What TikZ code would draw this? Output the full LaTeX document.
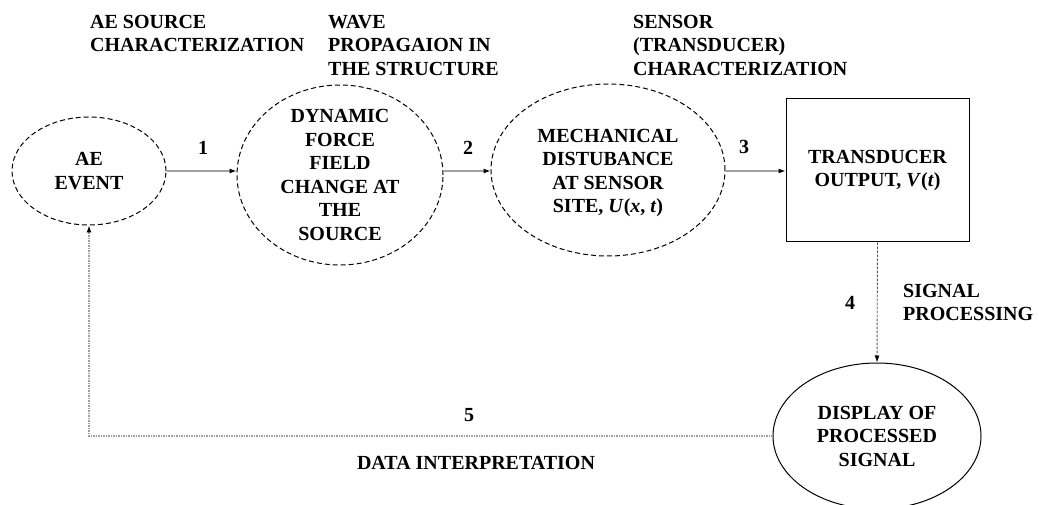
\documentclass[tikz,border=0pt]{standalone}
\usepackage{fontspec}
\setmainfont{Liberation Serif}
\usetikzlibrary{positioning,shapes.geometric,arrows.meta}

\tikzset{
  evt/.style={ellipse, draw, line width=1pt, dash pattern=on 5pt off 3pt, inner sep=0pt},
  txt/.style={align=center, inner sep=0pt},
  head/.style={align=left, anchor=north west, inner sep=0pt},
  num/.style={inner sep=0pt},
  flow/.style={draw=gray!75, line width=1.1pt, -{Latex[black,length=7pt,width=5pt]}},
}

\begin{document}
\begin{tikzpicture}[x=1pt, y=-1pt, font=\fontsize{20}{23.5}\selectfont\bfseries]
\useasboundingbox (0,0) rectangle (1039,505);

% headings over the steps
\node[head] (srchead) at (90,15) {AE SOURCE\\CHARACTERIZATION};
\node[head] (wavehead) at (328,15) {WAVE\\PROPAGAION IN\\THE STRUCTURE};
\node[head] (senshead) at (633,15) {SENSOR\\(TRANSDUCER)\\CHARACTERIZATION};

% the chain
\node[evt, minimum width=154, minimum height=108,
  label={[txt, name=eventtxt]center:AE\\EVENT}] (event) at (89,171) {};
\node[evt, minimum width=206, minimum height=180,
  label={[txt, name=forcetxt]center:DYNAMIC\\FORCE\\FIELD\\CHANGE AT\\THE\\SOURCE}] (force) at (340,175) {};
\node[evt, minimum width=234, minimum height=172,
  label={[txt, name=mechtxt, yshift=-3pt]center:MECHANICAL\\DISTUBANCE\\AT SENSOR\\SITE, \textit{U}(\textit{x}, \textit{t})}] (mech) at (608,170) {};
\node[draw, line width=1pt, minimum width=183, minimum height=143,
  label={[txt, name=outtxt]center:TRANSDUCER\\OUTPUT, \textit{V}(\textit{t})}] (out) at (877.5,170.5) {};
\node[ellipse, draw, line width=1pt, inner sep=0pt, minimum width=208, minimum height=146,
  label={[txt, name=disptxt]center:DISPLAY OF\\PROCESSED\\SIGNAL}] (disp) at (877,436) {};

\draw[flow] (event.east) -- (event.east -| force.west);
\draw[flow] (force.east |- event.east) -- (event.east -| mech.west);
\draw[flow] (mech.east |- event.east) -- (event.east -| out.west);
\draw[draw=gray!70!black, line width=0.9pt, dash pattern=on 2.5pt off 1.5pt,
  -{Latex[black,length=7pt,width=5pt]}] (out.south) -- (disp.north);
\draw[draw=gray!75, line width=1.1pt, dash pattern=on 1.5pt off 1pt,
  -{Latex[black,length=7pt,width=5pt]}] (disp.west) -| (event.south);

% step numbers
\node[num] (n1) at (203,148) {1};
\node[num] (n2) at (468,148) {2};
\node[num] (n3) at (744,147) {3};
\node[num] (n4) at (850,303) {4};
\node[num] (n5) at (469,415) {5};

\node[head] (sighead) at (903,284) {SIGNAL\\PROCESSING};
\node[txt] (datahead) at (476,463) {DATA INTERPRETATION};
\end{tikzpicture}
\end{document}
